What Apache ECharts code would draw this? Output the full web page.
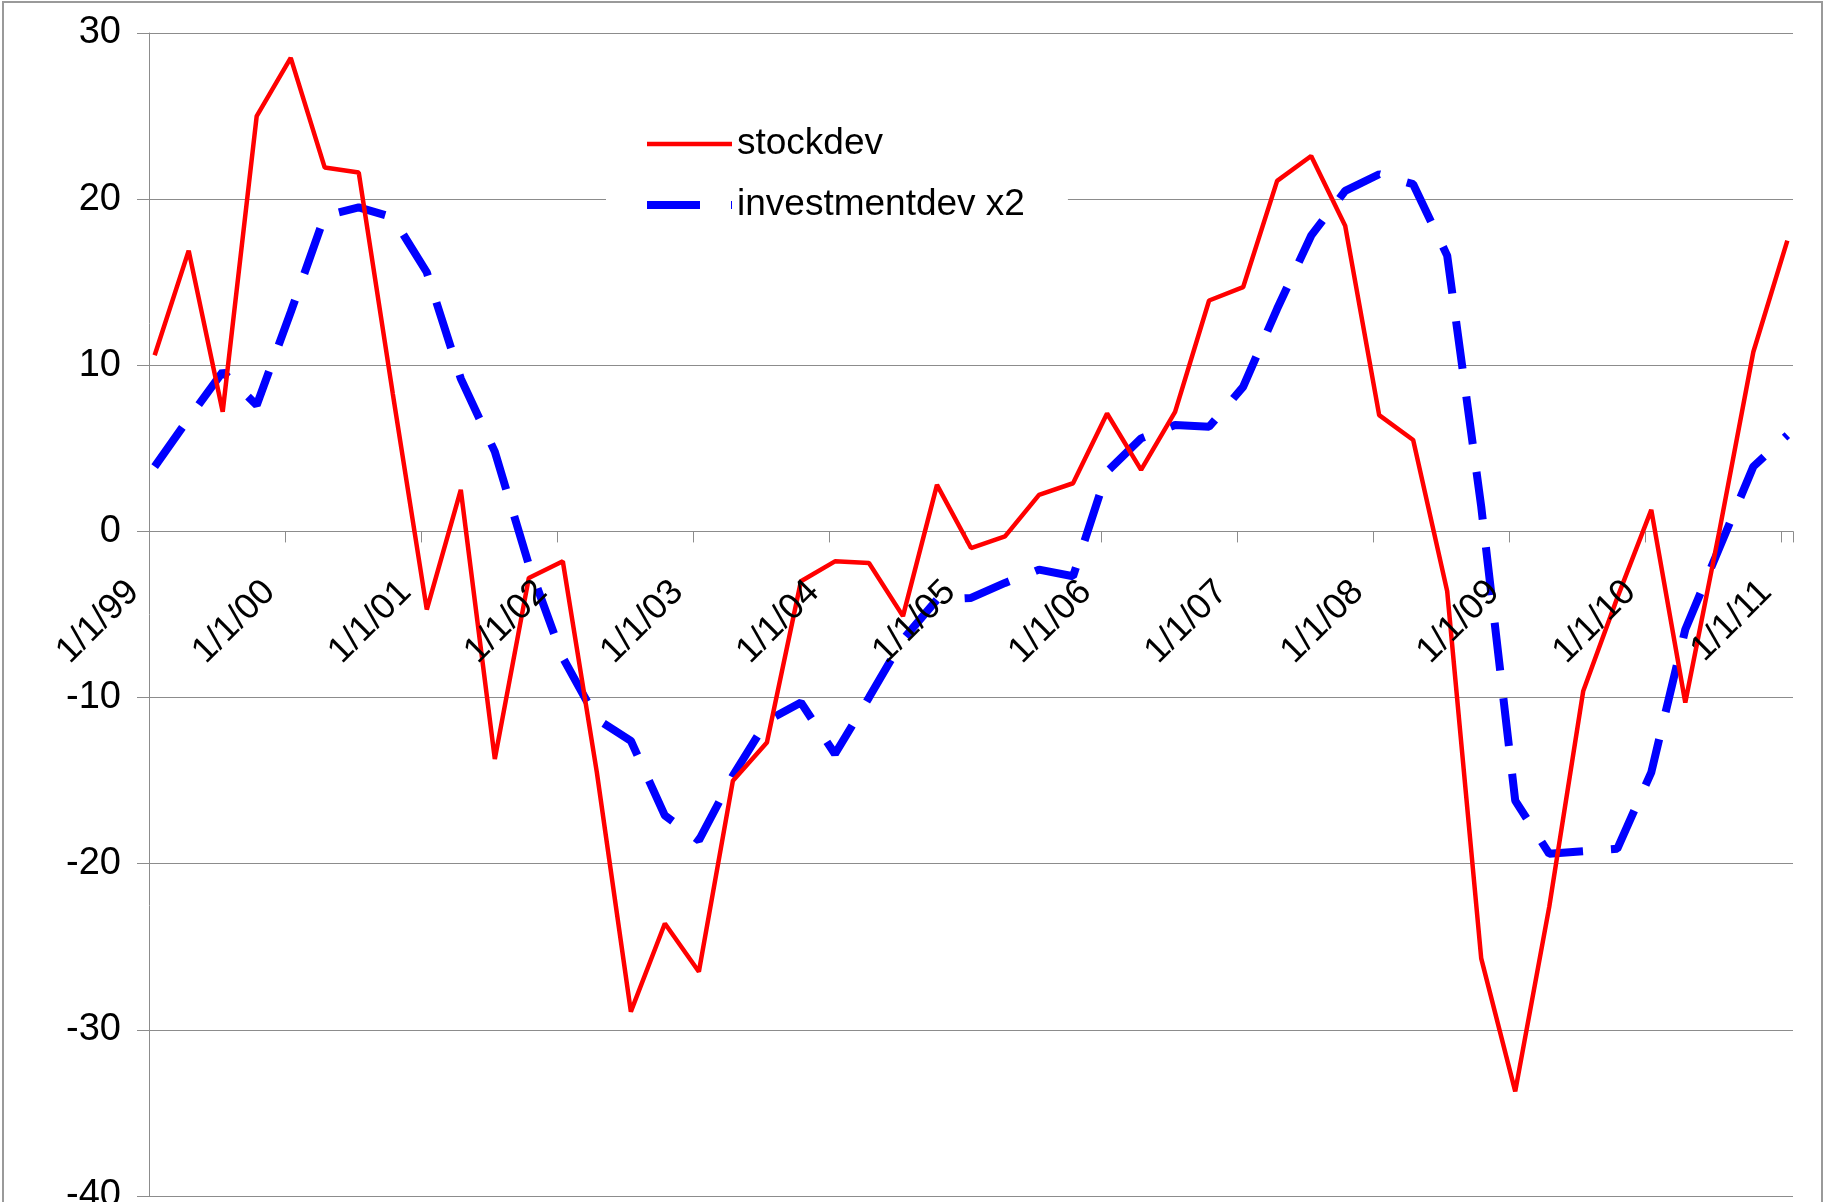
<!DOCTYPE html>
<html>
<head>
<meta charset="utf-8">
<title>stockdev / investmentdev</title>
<script src="https://cdn.jsdelivr.net/npm/echarts@6/dist/echarts.min.js"></script>
<style>
    html, body { margin: 0; padding: 0; background: #fff; }
    #chart { width: 1825px; height: 1202px; }
</style>
</head>
<body>
<div id="chart"></div>
<script>
    // one label per year, at 1 January
    var yearLabels = ['1/1/99', '1/1/00', '1/1/01', '1/1/02', '1/1/03', '1/1/04', '1/1/05',
        '1/1/06', '1/1/07', '1/1/08', '1/1/09', '1/1/10', '1/1/11'];

    // quarterly values, 1/1/99 .. 1/1/11
    var stockdev = [10.6, 16.9, 7.2, 25.0, 28.5, 21.9, 21.6, 8.3, -4.7, 2.5,
        -13.7, -2.8, -1.8, -14.5, -28.9, -23.6, -26.5, -15.0, -12.7, -3.0,
        -1.8, -1.9, -5.1, 2.8, -1.0, -0.3, 2.2, 2.9, 7.1, 3.7,
        7.2, 13.9, 14.7, 21.1, 22.6, 18.4, 7.0, 5.5, -3.6, -25.7,
        -33.7, -22.6, -9.6, -4.0, 1.3, -10.3, 0.0, 10.8, 17.5];

    var investmentdev2 = [3.9, 6.8, 9.6, 7.6, 13.2, 19.0, 19.5, 18.9, 15.6, 9.2,
        4.8, -2.0, -7.6, -11.3, -12.6, -17.1, -18.6, -14.7, -11.4, -10.3,
        -13.4, -10.0, -6.5, -4.1, -4.0, -3.1, -2.3, -2.7, 3.6, 5.6,
        6.4, 6.3, 8.7, 13.4, 17.8, 20.5, 21.5, 20.9, 16.6, 1.5,
        -16.2, -19.4, -19.25, -19.1, -14.5, -5.9, -1.0, 3.9, 5.8];

    var FONT = "'Liberation Sans', Arial, sans-serif";
    var GRID_COLOR = '#8c8c8c';

    var GRID_TOP = 33, GRID_BOTTOM = 6, CHART_H = 1202;
    var Y_MIN = -40, Y_MAX = 30;
    // the date axis sits on the zero line (onZero hides the labels in v6, so shift it up by hand)
    var plotH = CHART_H - GRID_TOP - GRID_BOTTOM;
    var zeroOffset = -plotH * (0 - Y_MIN) / (Y_MAX - Y_MIN);

    // monthly date axis (like excel's date axis with month base unit): Jan 99 .. Jan 11
    // only Januaries carry a label; trailing spaces pull the text back toward the tick
    var months = [];
    for (var y = 0; y < yearLabels.length; y++) {
        for (var m = 0; m < 12; m++) {
            if (y === yearLabels.length - 1 && m > 0) break;
            months.push(m === 0 ? yearLabels[y] + '   ' : '');
        }
    }

    // quarterly point i falls in month 3*i
    function toPoints(values) {
        return values.map(function (v, i) {
            return [i * 3, v];
        });
    }

    var dateAxisBase = {
        type: 'category',
        data: months,
        boundaryGap: true,
        position: 'bottom',
        offset: zeroOffset,
        splitLine: {show: false}
    };

    var myChart = echarts.init(document.getElementById('chart'));
    myChart.setOption({
        animation: false,
        backgroundColor: '#fff',
        graphic: [{
            type: 'rect',
            z: -1,
            shape: {x: 3, y: 2, width: 1819, height: 1260},
            style: {fill: 'none', stroke: '#9a9a9a', lineWidth: 2}
        }],
        grid: {
            left: 149, right: 32, top: GRID_TOP, bottom: GRID_BOTTOM,
            outerBoundsMode: 'none'
        },
        legend: {
            orient: 'vertical',
            left: 606,
            top: 112,
            padding: [12, 43, 12, 37],
            backgroundColor: '#fff',
            itemWidth: 85,
            itemHeight: 20,
            itemGap: 21,
            selectedMode: false,
            textStyle: {fontSize: 37, fontFamily: FONT, color: '#000', lineHeight: 40},
            data: [
                {
                    name: 'stockdev',
                    itemStyle: {color: 'rgba(0,0,0,0)', opacity: 0, borderWidth: 0},
                    lineStyle: {color: '#ff0000', width: 4.5}
                },
                {
                    name: 'investmentdev x2',
                    itemStyle: {color: 'rgba(0,0,0,0)', opacity: 0, borderWidth: 0},
                    lineStyle: {color: '#0000ff', width: 8, type: [53, 31], cap: 'butt'}
                }
            ]
        },
        xAxis: [
            // line and ticks, under the series
            echarts.util.merge({
                axisLine: {show: true, onZero: false, lineStyle: {color: GRID_COLOR, width: 1}},
                axisTick: {show: true, interval: 11, length: 11, lineStyle: {color: GRID_COLOR}},
                axisLabel: {show: false}
            }, dateAxisBase),
            // the date labels, drawn over the series
            echarts.util.merge({
                z: 5,
                axisLine: {show: false, onZero: false},
                axisTick: {show: false},
                axisLabel: {
                    show: true,
                    interval: 11,
                    rotate: 45,
                    margin: 34,
                    fontSize: 36,
                    fontFamily: FONT,
                    color: '#000'
                }
            }, dateAxisBase)
        ],
        yAxis: {
            type: 'value',
            min: Y_MIN,
            max: Y_MAX,
            interval: 10,
            axisLine: {show: true, lineStyle: {color: GRID_COLOR, width: 1}},
            axisTick: {show: true, length: 12, lineStyle: {color: GRID_COLOR}},
            splitLine: {show: true, lineStyle: {color: GRID_COLOR, width: 1}},
            axisLabel: {fontSize: 38, fontFamily: FONT, color: '#000', margin: 28}
        },
        series: [
            {
                name: 'investmentdev x2',
                type: 'line',
                xAxisIndex: 0,
                data: toPoints(investmentdev2),
                symbol: 'none',
                itemStyle: {color: '#0000ff'},
                lineStyle: {color: '#0000ff', width: 8, type: [48, 28], cap: 'butt'}
            },
            {
                name: 'stockdev',
                type: 'line',
                xAxisIndex: 0,
                data: toPoints(stockdev),
                symbol: 'none',
                itemStyle: {color: '#ff0000'},
                lineStyle: {color: '#ff0000', width: 4.5}
            }
        ]
    });
</script>
</body>
</html>
